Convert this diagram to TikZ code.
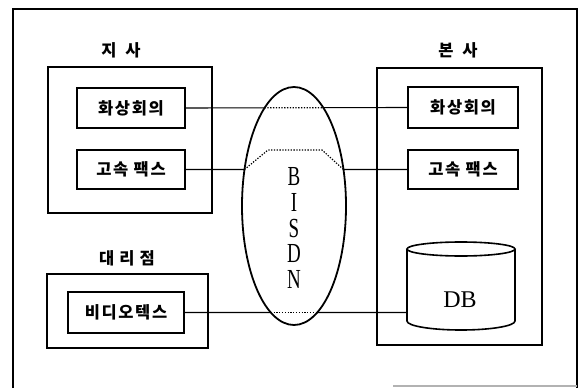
\documentclass[tikz,border=0pt]{standalone}
\usepackage{fontspec}
\setmainfont{Liberation Serif}
\newfontfamily\kr[LetterSpace=10]{Noto Sans CJK KR}
\usetikzlibrary{intersections}
\tikzset{
  frame/.style={draw, line width=1.8pt, inner sep=0pt},
  unit/.style={draw, line width=1.6pt, inner sep=0pt, font=\kr\bfseries\fontsize{16.5}{16.5}\selectfont},
  grouplabel/.style={font=\kr\bfseries\fontsize{16.5}{16.5}\selectfont, inner sep=0pt},
  link/.style={line width=1.1pt},
  dotlink/.style={line width=1.2pt, dash pattern=on 1.3pt off 1.5pt},
}
\begin{document}
\begin{tikzpicture}[x=1pt,y=-1pt]
\useasboundingbox (0,0) rectangle (583,388);
% outer frame
\draw[line width=1.8pt] (13,388) -- (13,9) -- (577,9) -- (577,388);
\draw[gray!60, line width=1.2pt] (393,386) -- (577,386);

% branch office
\node[frame, minimum width=164pt, minimum height=146pt] (jisa) at (130,140) {};
\node[grouplabel] (jisaL) at (121,50) {지\hspace{9pt}사};
\node[unit, minimum width=108pt, minimum height=40pt] (lhw) at (131,108) {화상회의};
\node[unit, minimum width=108pt, minimum height=39pt] (lfax) at (131,169.5) {고속 팩스};

% agency
\node[frame, minimum width=161pt, minimum height=74pt] (daeri) at (127.5,311) {};
\node[grouplabel] (daeriL) at (127,258) {대\hspace{5pt}리\hspace{5pt}점};
\node[unit, minimum width=116pt, minimum height=41pt] (lvid) at (126,312.5) {비디오텍스};

% head office
\node[frame, minimum width=165pt, minimum height=277pt] (bonsa) at (459.5,206.5) {};
\node[grouplabel] (bonsaL) at (458,50) {본\hspace{9pt}사};
\node[unit, minimum width=110pt, minimum height=41pt] (rhw) at (463,107.5) {화상회의};
\node[unit, minimum width=110pt, minimum height=39pt] (rfax) at (463,169.5) {고속 팩스};

% database cylinder
\node[minimum width=108pt, minimum height=88pt, inner sep=0pt] (db) at (461,287) {};
\draw[line width=1.6pt] (461,249) ellipse [x radius=54, y radius=7];
\draw[line width=1.6pt] (407,249) -- (407,321) arc[start angle=180, end angle=0, x radius=54, y radius=9] -- (515,249);
\node[font=\fontsize{24}{24}\selectfont, inner sep=0pt] (dbt) at (460,300) {DB};

% ISDN cloud
\draw[line width=1.8pt, name path=ell] (294,206) ellipse [x radius=52, y radius=119];
\begin{scope}[shift={(294,228)}, yscale=1.45]
\node[transform shape, align=center, inner sep=0pt, font=\fontsize{19}{17.9}\selectfont] (isdn) at (0,0) {B\\I\\S\\D\\N};
\end{scope}

% connectors
\path[name path=hw] (lhw.east) -- (rhw.west);
\path[name intersections={of=ell and hw, sort by=hw, by={h1,h2}}];
\draw[link] (lhw.east) -- (h1);
\draw[dotlink] (h1) -- (h2);
\draw[link] (h2) -- (rhw.west);

\path[name path=fx] (lfax.east) -- (rfax.west);
\path[name intersections={of=ell and fx, sort by=fx, by={f1,f2}}];
\coordinate (fk1) at (268,150);
\coordinate (fk2) at (322,150);
\draw[link] (lfax.east) -- (f1);
\draw[dotlink] (f1) -- (fk1) -- (fk2) -- (f2);
\draw[link] (f2) -- (rfax.west);

\coordinate (dbin) at (lvid.east -| db.west);
\path[name path=vd] (lvid.east) -- (dbin);
\path[name intersections={of=ell and vd, sort by=vd, by={v1,v2}}];
\draw[link] (lvid.east) -- (v1);
\draw[dotlink] (v1) -- (v2);
\draw[link] (v2) -- (dbin);
\end{tikzpicture}
\end{document}
